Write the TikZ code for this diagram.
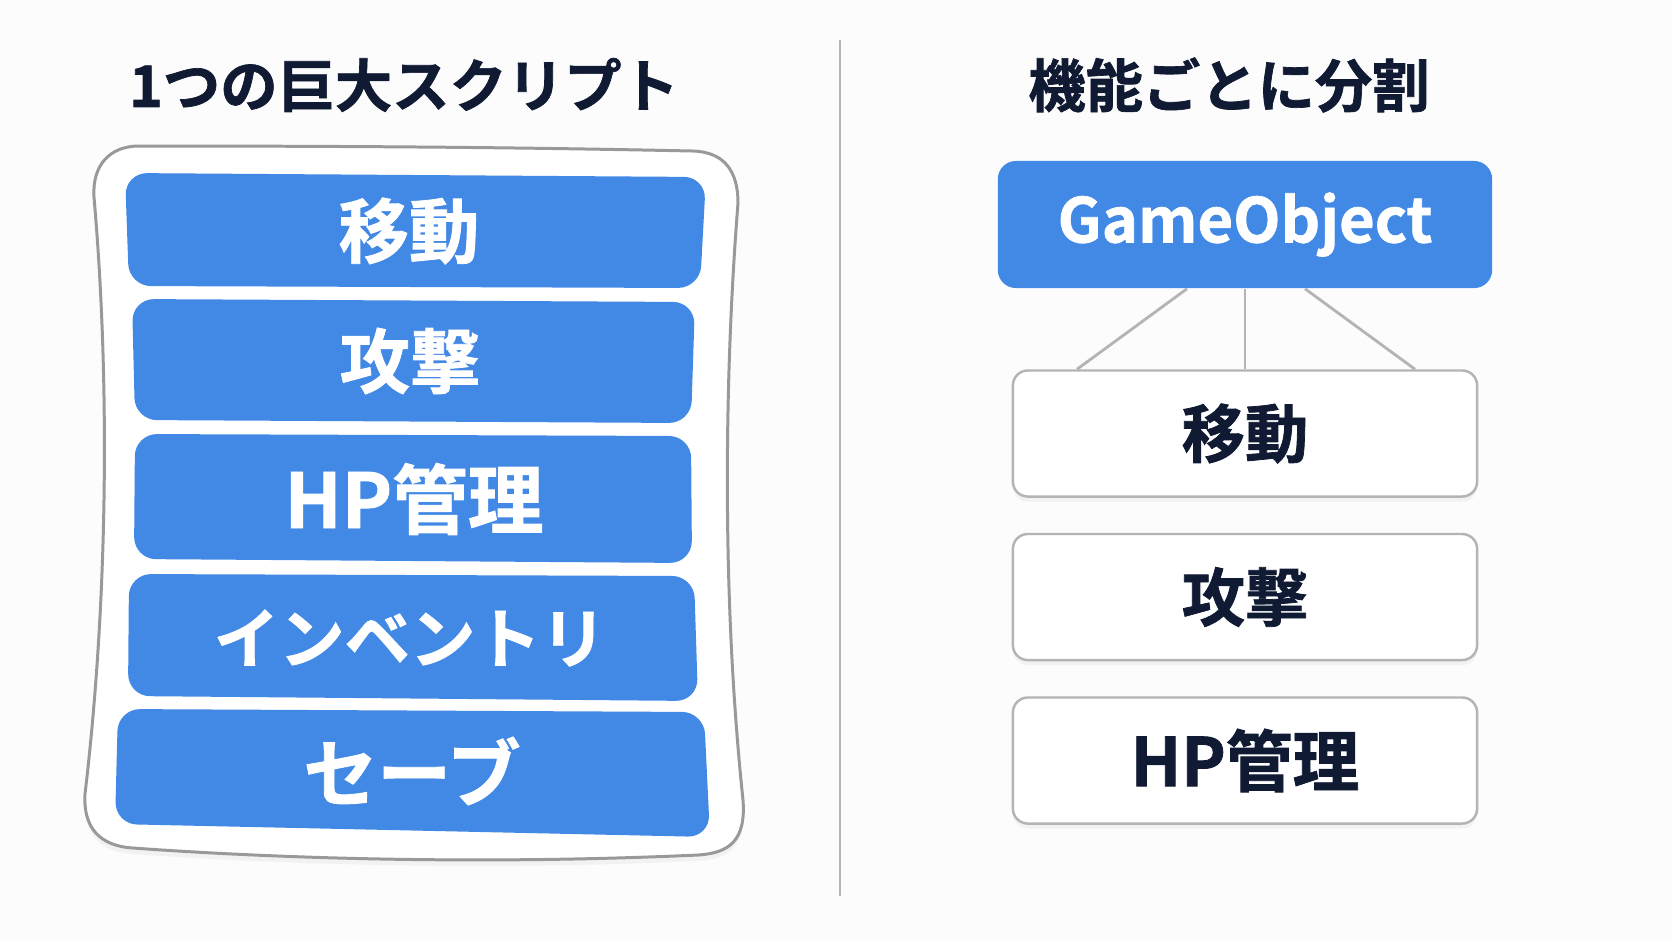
\documentclass[tikz,border=0pt]{standalone}
\usepackage{fontspec}
\setmainfont{Noto Sans CJK JP}[BoldFont={Noto Sans CJK JP Bold}, BoldFeatures={FakeBold=1.2}]
\usepackage{tikz}
\usetikzlibrary{calc, shadows}

\definecolor{barblue}{HTML}{4289E6}
\definecolor{ink}{HTML}{101A33}
\definecolor{edge}{HTML}{B4B4B4}
\definecolor{paper}{HTML}{FCFCFC}

\newcommand{\fsz}[1]{\bfseries\fontsize{#1}{#1}\selectfont}

\tikzset{
	bar/.style = {fill=barblue, rounded corners=0.22cm},
	bartext/.style = {text=white, inner sep=0pt},
	title/.style = {text=ink, inner sep=0pt, font=\fsz{16.3pt}},
	head/.style = {fill=barblue, rounded corners=0.18cm, minimum width=4.94cm, minimum height=1.27cm, text=white, font=\fsz{17.5pt}},
	part/.style = {draw=edge, line width=0.7pt, fill=white, rounded corners=0.15cm, minimum width=4.64cm, minimum height=1.26cm, text=ink, drop shadow={opacity=0.08, shadow xshift=0cm, shadow yshift=-0.05cm}},
	link/.style = {draw=edge, line width=0.8pt},
}

\begin{document}
\begin{tikzpicture}[x=0.01cm, y=-0.01cm]
		\useasboundingbox (0,0) rectangle (1672,941);
		\fill[paper] (0,0) rectangle (1672,941);
		
		\node[title] (lefttitle) at (404,85) {1つの巨大スクリプト};
		\node[title] (righttitle) at (1229,85) {機能ごとに分割};
		
		\draw[edge, line width=0.6pt] (840,40) -- (840,896);
		
		\draw[draw=edge!85!black, line width=0.85pt, fill=white, drop shadow={opacity=0.08, shadow xshift=0cm, shadow yshift=-0.06cm}]
			(139,146) .. controls (400,146) and (550,148) .. (693,151)
			.. controls (725,152) and (738,172) .. (738,203)
			.. controls (724,380) and (722,600) .. (743,800)
			.. controls (746,840) and (730,853) .. (698,855)
			.. controls (500,864) and (300,860) .. (133,848)
			.. controls (100,846) and (83,828) .. (85,794)
			.. controls (108,600) and (110,380) .. (94,197)
			.. controls (92,165) and (110,146) .. (139,146) -- cycle;
		
		\fill[bar] (125,173) -- (706,177) -- (700,288) -- (129,286) -- cycle;
		\fill[bar] (132,299) -- (695,302) -- (691,423) -- (135,420) -- cycle;
		\fill[bar] (135,434) -- (691,436) -- (692,563) -- (134,559) -- cycle;
		\fill[bar] (129,574) -- (694,576) -- (698,701) -- (128,696) -- cycle;
		\fill[bar] (118,709) -- (704,712) -- (710,837) -- (115,824) -- cycle;
		
		\node[bartext, font=\fsz{20pt}] (bmove) at (409,231) {移動};
		\node[bartext, font=\fsz{20pt}] (battack) at (410,361) {攻撃};
		\node[bartext, font=\fsz{21.5pt}] (bhp) at (414,499) {HP管理};
		\node[bartext, font=\fsz{18.6pt}] (binv) at (410,638) {インベントリ};
		\node[bartext, font=\fsz{21pt}] (bsave) at (412,771) {セーブ};
		
		\node[head] (go) at (1245,224.5) {GameObject};
		\node[part, font=\fsz{18pt}] (pmove) at (1245,433.5) {移動};
		\node[part, font=\fsz{18pt}] (pattack) at (1245,597) {攻撃};
		\node[part, font=\fsz{19pt}] (php) at (1245,760.5) {HP管理};
		
		\draw[link] ($(go.south)+(-58,0)$) -- ($(pmove.north)+(-168,0)$);
		\draw[link] (go.south) -- (pmove.north);
		\draw[link] ($(go.south)+(60,0)$) -- ($(pmove.north)+(170,0)$);
	\end{tikzpicture}
\end{document}
